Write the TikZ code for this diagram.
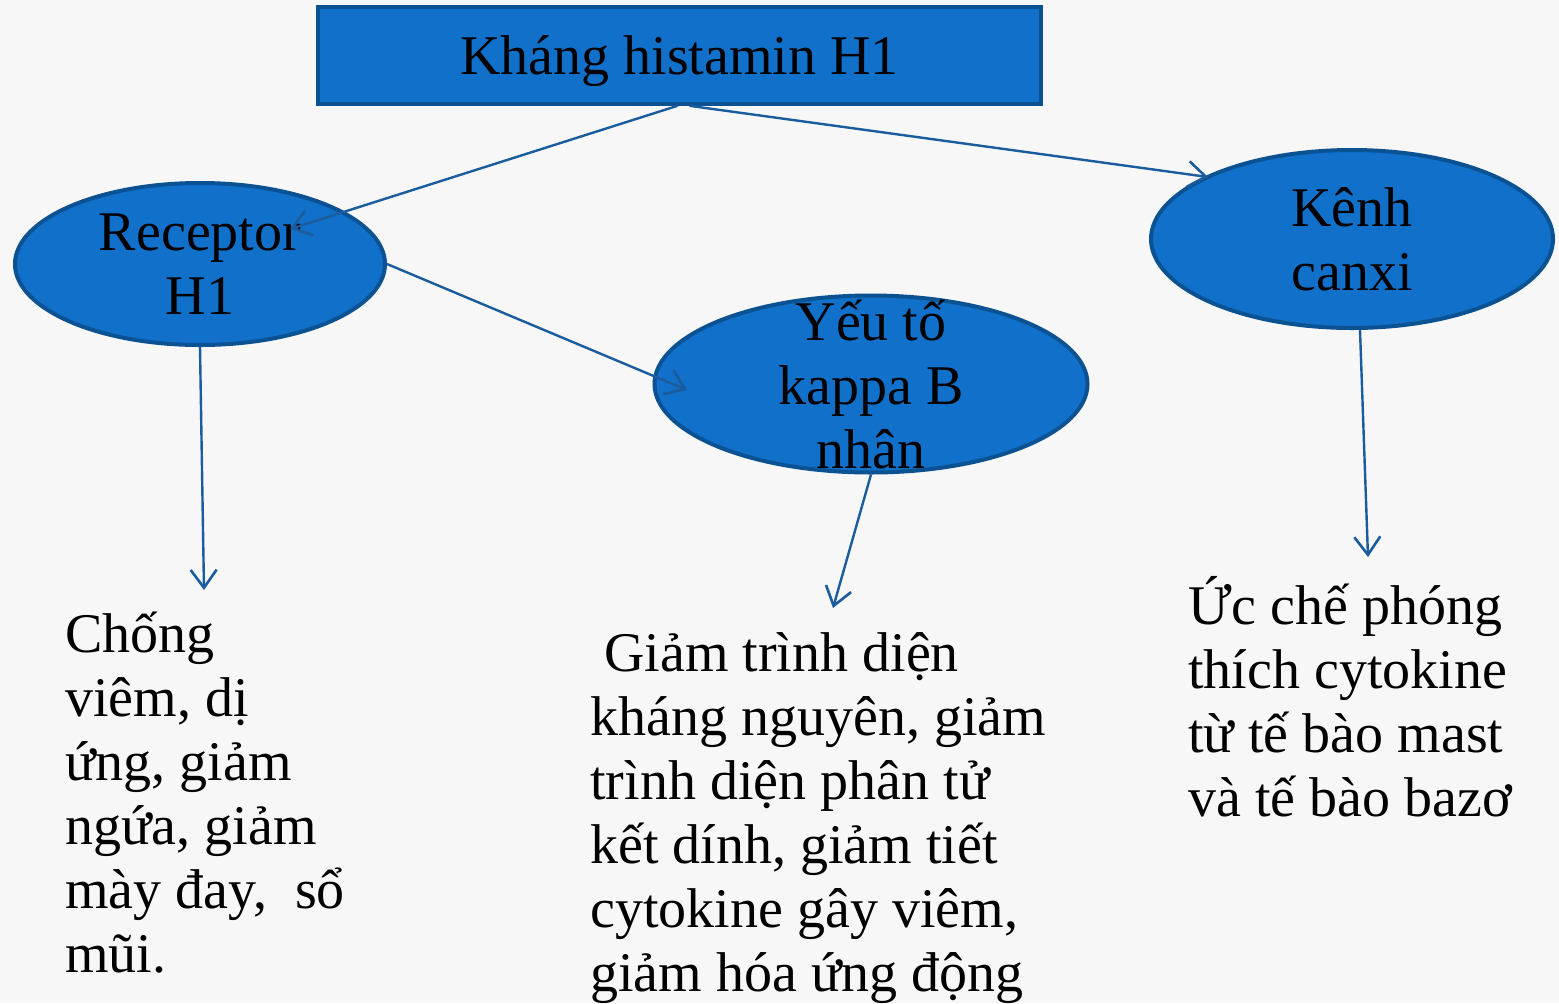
\documentclass[tikz,border=0pt]{standalone}
\usepackage{fontspec}
\setmainfont{Liberation Serif}
\usetikzlibrary{arrows.meta,shapes.geometric}
\definecolor{boxblue}{HTML}{1170C9}
\definecolor{edgeblue}{HTML}{0B5293}
\definecolor{linkblue}{HTML}{1A5C9E}
\definecolor{paper}{HTML}{F7F7F7}
\newcommand{\slidefont}{\fontsize{28}{32}\selectfont}
\tikzset{
	blob/.style={ellipse,draw=edgeblue,line width=2pt,fill=boxblue,inner sep=0pt},
	link/.style={draw=linkblue,line width=1.2pt,-{Straight Barb[length=9pt,width=13pt,line width=1.3pt]}},
	effect/.style={anchor=north west,align=left,inner sep=0pt,font=\slidefont}
}

\begin{document}
\begin{tikzpicture}[x=0.5pt,y=-0.5pt]
			\fill[paper] (0,0) rectangle (1559,1003);
			\useasboundingbox (0,0) rectangle (1559,1003);
			% top box
			\node[draw=edgeblue,line width=1.8pt,fill=boxblue,minimum width=361.5pt,minimum height=48.5pt,
				label={[font=\slidefont,yshift=-3pt]center:Kháng histamin H1}] (title) at (679.5,55.5) {};
			% receptors
			\node[blob,minimum width=185pt,minimum height=81pt,label={[align=center,font=\slidefont]center:Receptor\\H1}] (receptor) at (200,264) {};
			\node[blob,minimum width=216.5pt,minimum height=88.5pt,label={[align=center,font=\slidefont]center:Yếu tố\\kappa B\\nhân}] (kappa) at (871,384) {};
			\node[blob,minimum width=201pt,minimum height=89pt,label={[align=center,font=\slidefont]center:Kênh\\canxi}] (kenh) at (1352,239) {};
			% effects
			\node[effect] (left) at (65,612) {Chống\\viêm, dị\\ứng, giảm\\ngứa, giảm\\mày đay,\ \ sổ\\mũi.};
			\node[effect] (mid) at (590,632) {\hspace*{0.25em}Giảm trình diện\\kháng nguyên, giảm\\trình diện phân tử\\kết dính, giảm tiết\\cytokine gây viêm,\\giảm hóa ứng động};
			\node[effect] (right) at (1188,576) {Ức chế phóng\\thích cytokine\\từ tế bào mast\\và tế bào bazơ};
			% arrow ends
			\coordinate (recTip) at (290,229);
			\coordinate (kenhTip) at (1208,177);
			\coordinate (kappaTip) at (687,390);
			\coordinate (leftTip) at (204,590);
			\coordinate (midTip) at (833,608);
			\coordinate (rightTip) at (1368,557);
			% connectors
			\draw[link] ([xshift=-1pt]title.south) -- (recTip);
			\draw[link] ([xshift=5pt]title.south) -- (kenhTip);
			\draw[link] (receptor.east) -- (kappaTip);
			\draw[link] (receptor.south) -- (leftTip);
			\draw[link] (kappa.south) -- (midTip);
			\draw[link] ([xshift=4pt]kenh.south) -- (rightTip);
		\end{tikzpicture}
\end{document}
